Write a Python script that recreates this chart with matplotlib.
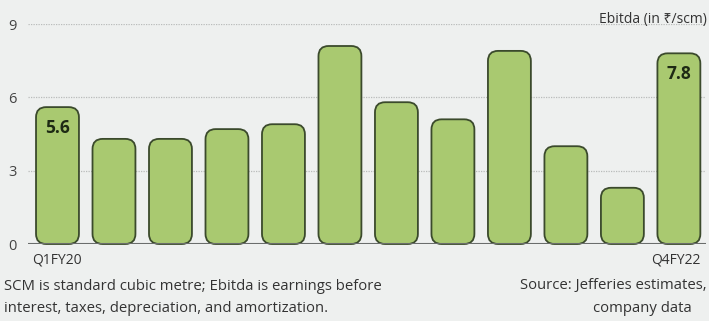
import matplotlib.pyplot as plt
from matplotlib.patches import FancyBboxPatch

plt.rcParams['font.family'] = ['Open Sans', 'Noto Sans', 'DejaVu Sans']

quarters = ["Q1FY20", "Q2FY20", "Q3FY20", "Q4FY20", "Q1FY21", "Q2FY21",
            "Q3FY21", "Q4FY21", "Q1FY22", "Q2FY22", "Q3FY22", "Q4FY22"]
ebitda = [5.6, 4.3, 4.3, 4.7, 4.9, 8.1, 5.8, 5.1, 7.9, 4.0, 2.3, 7.8]
yticks = [0, 3, 6, 9]
labelled = [0, 11]

bg = "#eef0ef"
fig = plt.figure(figsize=(7.09, 3.21), dpi=100, facecolor=bg)
ax = fig.add_axes([28 / 709, 77 / 321, (706 - 28) / 709, 220 / 321])
ax.set_facecolor(bg)

# rounded bars
w = 0.76
for i, v in enumerate(ebitda):
    p = FancyBboxPatch((i - w / 2, 0), w, v,
                       boxstyle="round,pad=0,rounding_size=0.18",
                       mutation_aspect=2.3,
                       facecolor="#a9c970", edgecolor="#3b4a2c", lw=1.3,
                       zorder=3, clip_on=False)
    ax.add_patch(p)

for i in labelled:
    ax.text(i, ebitda[i] - 0.85, f"{ebitda[i]:.1f}", ha="center", va="center",
            fontsize=12.5, fontweight="bold", color="#1e2a14", zorder=4)

ax.set_xlim(-0.522, 11.48)
ax.set_ylim(0, 9)
ax.set_yticks(yticks)
ax.set_yticklabels([str(t) for t in yticks], fontsize=10.5, color="#444444")
ax.tick_params(axis="y", length=0, pad=8)
ax.set_xticks([])
for s in ax.spines.values():
    s.set_visible(False)
for t in yticks[1:]:
    ax.axhline(t, color="#b9bcbb", lw=0.9, ls=(0, (1, 1)), zorder=1)
ax.axhline(0, color="#6a6d6c", lw=1.5, zorder=5)

ax.text(-0.45, -0.35, quarters[0], ha="left", va="top", fontsize=10, color="#333333")
ax.text(11.38, -0.35, quarters[-1], ha="right", va="top", fontsize=10, color="#333333")

fs = 10.7
fig.text(707 / 709, 1 - 20 / 321, "Ebitda (in ₹/scm)", ha="right", va="center",
         fontsize=10, color="#333333")
fig.text(4 / 709, 1 - 286 / 321, "SCM is standard cubic metre; Ebitda is earnings before",
         ha="left", va="center", fontsize=fs, color="#333333")
fig.text(4 / 709, 1 - 308 / 321, "interest, taxes, depreciation, and amortization.",
         ha="left", va="center", fontsize=fs, color="#333333")
fig.text(707 / 709, 1 - 286 / 321, "Source: Jefferies estimates,",
         ha="right", va="center", fontsize=fs, color="#333333")
fig.text(692 / 709, 1 - 308 / 321, "company data",
         ha="right", va="center", fontsize=fs, color="#333333")

fig.savefig("out.png", dpi=100, facecolor=bg)
